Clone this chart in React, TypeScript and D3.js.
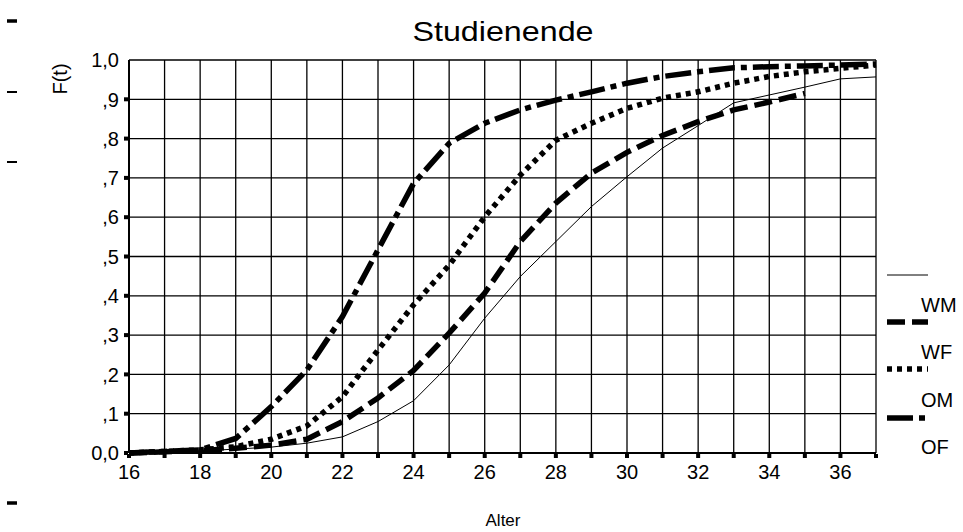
import React from "react";
import * as d3 from "d3";

const ages = [16, 17, 18, 19, 20, 21, 22, 23, 24, 25, 26, 27, 28, 29, 30, 31, 32, 33, 34, 35, 36, 37];
const WM = [0, 0.002, 0.005, 0.01, 0.015, 0.025, 0.041, 0.08, 0.133, 0.224, 0.343, 0.449, 0.538, 0.627, 0.703, 0.776, 0.833, 0.891, 0.911, 0.931, 0.952, 0.957];
const WF = [0, 0.003, 0.006, 0.012, 0.02, 0.035, 0.08, 0.14, 0.21, 0.305, 0.407, 0.538, 0.636, 0.712, 0.765, 0.808, 0.843, 0.873, 0.893, 0.915, null, null];
const OM = [0, 0.004, 0.008, 0.016, 0.035, 0.069, 0.143, 0.262, 0.377, 0.478, 0.601, 0.707, 0.796, 0.839, 0.877, 0.903, 0.919, 0.941, 0.958, 0.97, 0.979, 0.987];
const OF = [0, 0.004, 0.008, 0.037, 0.118, 0.211, 0.347, 0.517, 0.686, 0.788, 0.839, 0.873, 0.898, 0.919, 0.941, 0.958, 0.97, 0.98, 0.983, 0.985, 0.987, 0.99];

const seriesNames = ["WM", "WF", "OM", "OF"];
const yTicks = [0, 0.1, 0.2, 0.3, 0.4, 0.5, 0.6, 0.7, 0.8, 0.9, 1.0];
const yTickLabels = ["0,0", ",1", ",2", ",3", ",4", ",5", ",6", ",7", ",8", ",9", "1,0"];
const xTickLabels = [16, 18, 20, 22, 24, 26, 28, 30, 32, 34, 36];
const title = "Studienende";
const xTitle = "Alter";
const yTitle = "F(t)";

const W = 963;
const H = 532;
const FONT = "'Liberation Sans', Arial, sans-serif";

export default function App() {
  const x = d3.scaleLinear().domain([16, 37]).range([129, 876]);
  const y = d3.scaleLinear().domain([0, 1]).range([453, 60]);

  const styles = [
    { width: 1, dash: "" },
    { width: 5.5, dash: "18,7" },
    { width: 5.5, dash: "5,5" },
    { width: 5.5, dash: "26,6,6,6" },
  ];
  const data = [WM, WF, OM, OF];

  const line = d3
    .line<[number, number | null]>()
    .defined((d) => d[1] !== null)
    .x((d) => x(d[0]))
    .y((d) => y(d[1] as number));

  const legendY = [275, 322, 369, 418];
  const legendTextY = [305, 352, 400, 447];

  return (
    <svg width={W} height={H} style={{ position: "absolute", left: 0, top: 0, background: "#fff" }} fontFamily={FONT}>
      <rect x={0} y={0} width={W} height={H} fill="#fff" />
      {/* stray marks on the left */}
      <line x1={7} x2={17} y1={21} y2={21} stroke="#000" strokeWidth={3.5} />
      <line x1={7} x2={17} y1={92} y2={92} stroke="#000" strokeWidth={2} />
      <line x1={7} x2={17} y1={162} y2={162} stroke="#000" strokeWidth={2} />
      <line x1={7} x2={17} y1={503} y2={503} stroke="#000" strokeWidth={3.5} />

      <text x={503} y={41} textAnchor="middle" fontSize={28} textLength={181} lengthAdjust="spacingAndGlyphs">
        {title}
      </text>

      {/* grid */}
      {ages.map((a) => (
        <line key={"gx" + a} x1={x(a)} x2={x(a)} y1={y(1)} y2={y(0)} stroke="#000" strokeWidth={1.3} />
      ))}
      {yTicks.map((t) => (
        <line key={"gy" + t} x1={x(16)} x2={x(37)} y1={y(t)} y2={y(t)} stroke="#000" strokeWidth={1.3} />
      ))}
      {/* axes */}
      <line x1={x(16)} x2={x(16)} y1={y(1)} y2={y(0)} stroke="#000" strokeWidth={2} />
      <line x1={x(16)} x2={x(37)} y1={y(0)} y2={y(0)} stroke="#000" strokeWidth={2} />

      {/* y ticks */}
      {yTicks.map((t, i) =>
        i < yTicks.length - 1 ? (
          <rect key={"ty" + i} x={x(16) - 5} y={y(t) - 2} width={4} height={4} fill="#000" />
        ) : null
      )}
      {yTicks.map((t, i) => (
        <text key={"ly" + i} x={119} y={y(t)} dy="0.36em" textAnchor="end" fontSize={20}>
          {yTickLabels[i]}
        </text>
      ))}
      {/* x ticks */}
      {ages.map((a) => (
        <rect key={"tx" + a} x={x(a) - 2} y={y(0) + 1} width={4} height={4} fill="#000" />
      ))}
      {xTickLabels.map((a) => (
        <text key={"lx" + a} x={x(a)} y={479} textAnchor="middle" fontSize={20}>
          {a}
        </text>
      ))}

      <text transform={`translate(67,79) rotate(-90)`} textAnchor="middle" fontSize={20}>
        {yTitle}
      </text>
      <text x={503} y={526} textAnchor="middle" fontSize={17}>
        {xTitle}
      </text>

      {/* series */}
      {data.map((vals, i) => (
        <path
          key={"s" + i}
          d={line(ages.map((a, j) => [a, vals[j]] as [number, number | null])) || ""}
          fill="none"
          stroke="#000"
          strokeWidth={styles[i].width}
          strokeDasharray={styles[i].dash || undefined}
          strokeLinejoin="miter"
        />
      ))}

      {/* legend */}
      {seriesNames.map((n, i) => (
        <g key={"lg" + n}>
          <line
            x1={887}
            x2={928}
            y1={legendY[i]}
            y2={legendY[i]}
            stroke="#000"
            strokeWidth={styles[i].width}
            strokeDasharray={styles[i].dash || undefined}
          />
          <text x={921} y={legendTextY[i]} dy="0.35em" fontSize={20}>
            {n}
          </text>
        </g>
      ))}
    </svg>
  );
}
